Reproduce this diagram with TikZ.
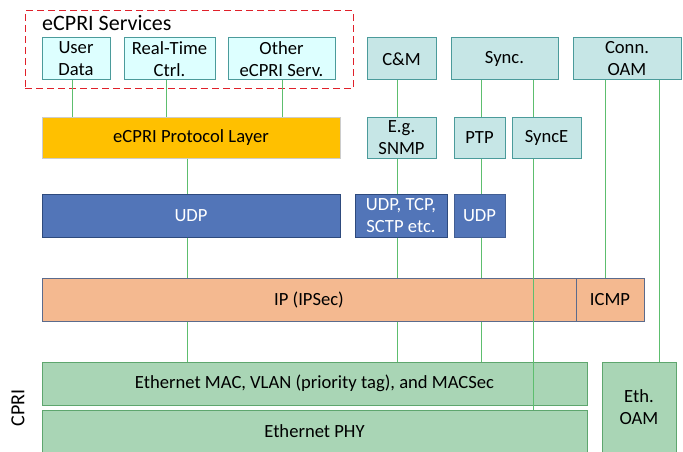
\documentclass[tikz,border=0pt]{standalone}
\usepackage{fontspec}
\setmainfont{Carlito}
\usepackage{xcolor}
\definecolor{svcfill}{HTML}{DDFFFF}
\definecolor{mgmtfill}{HTML}{C6E6E6}
\definecolor{tealline}{HTML}{4B9B9B}
\definecolor{protofill}{HTML}{FFC000}
\definecolor{udpfill}{HTML}{5275B8}
\definecolor{udpline}{HTML}{2E4A7D}
\definecolor{ipfill}{HTML}{F4B990}
\definecolor{ipline}{HTML}{5B6B8C}
\definecolor{ethfill}{HTML}{A9D5B5}
\definecolor{ethline}{HTML}{5EA66E}
\definecolor{linkgreen}{HTML}{5DBE6E}
\definecolor{svcred}{HTML}{E0202A}

\begin{document}
\begin{tikzpicture}[x=1pt,y=-1pt,font=\fontsize{18.6}{22}\selectfont]
\useasboundingbox (0,0) rectangle (683,452);
% Node styles
\tikzstyle{box}=[draw,line width=1pt,inner sep=0,align=center];
\tikzstyle{service node}=[box,draw=tealline,fill=svcfill,minimum height=42];
\tikzstyle{mgmt node}=[box,draw=tealline,fill=mgmtfill,minimum height=42];
\tikzstyle{udp node}=[box,draw=udpline,fill=udpfill,text=white,minimum height=43];
\tikzstyle{ip node}=[box,draw=ipline,fill=ipfill,minimum height=43];
\tikzstyle{eth node}=[box,draw=ethline,fill=ethfill];
\tikzstyle{link}=[draw=linkgreen,line width=0.9pt];
% eCPRI services
\node[draw=svcred,line width=1pt,dash pattern=on 7pt off 4pt,minimum width=328,minimum height=78](svc) at (189,50){};
\node[anchor=west,inner sep=0,font=\fontsize{22}{26}\selectfont](svct) at (42,23){eCPRI Services};
\node[service node,minimum width=68](ud) at (76,59){User\\Data};
\node[service node,minimum width=91](rt) at (169.5,59){Real-Time\\Ctrl.};
\node[service node,minimum width=107](oth) at (281.5,59){Other\\eCPRI Serv.};
% Management and sync
\node[mgmt node,minimum width=69](cm) at (401.5,59){C\&M};
\node[mgmt node,minimum width=107](sync) at (504.5,59){Sync.};
\node[mgmt node,minimum width=108](conn) at (627,59){Conn.\\OAM};
\node[box,draw=black!20,fill=protofill,minimum width=298,minimum height=41](epl) at (191,137.5){eCPRI Protocol Layer};
\node[mgmt node,minimum width=69,minimum height=41](snmp) at (401.5,137.5){E.g.\\SNMP};
\node[mgmt node,minimum width=51,minimum height=41](ptp) at (479.5,137.5){PTP};
\node[mgmt node,minimum width=69,minimum height=41](synce) at (546.5,137.5){SyncE};
% Transport
\node[udp node,minimum width=298](udp) at (191,215.5){UDP};
\node[udp node,minimum width=92](tcp) at (401,215.5){UDP, TCP,\\SCTP etc.};
\node[udp node,draw=udpfill!80!black,minimum width=51](udps) at (479.5,215.5){UDP};
\node[ip node,minimum width=534](ip) at (309,299.5){IP (IPSec)};
\node[ip node,minimum width=68](icmp) at (610,299.5){ICMP};
% Ethernet
\node[eth node,minimum width=545,minimum height=43](mac) at (314.5,383.5){Ethernet MAC, VLAN (priority tag), and MACSec};
\node[eth node,minimum width=545,minimum height=42](phy) at (314.5,431){Ethernet PHY};
\node[eth node,minimum width=74,minimum height=90](eoam) at (639,407){Eth.\\OAM};
\node[rotate=90,font=\fontsize{20}{24}\selectfont](cpri) at (18,408){CPRI};
% Links
\foreach \x/\a/\b in {72/ud/epl,166/rt/epl,282/oth/epl,187/epl/udp,187/udp/ip,187/ip/mac,
  397/cm/snmp,397/snmp/tcp,397/tcp/ip,397/ip/mac,481/sync/ptp,481/ptp/udps,481/udps/ip,481/ip/mac,
  533/sync/synce,533/synce/phy,605/conn/icmp,659/conn/eoam}{
  \coordinate (lx) at (\x,0);
  \draw[link] (\a.south -| lx) -- (\b.north -| lx);
}
\end{tikzpicture}
\end{document}
